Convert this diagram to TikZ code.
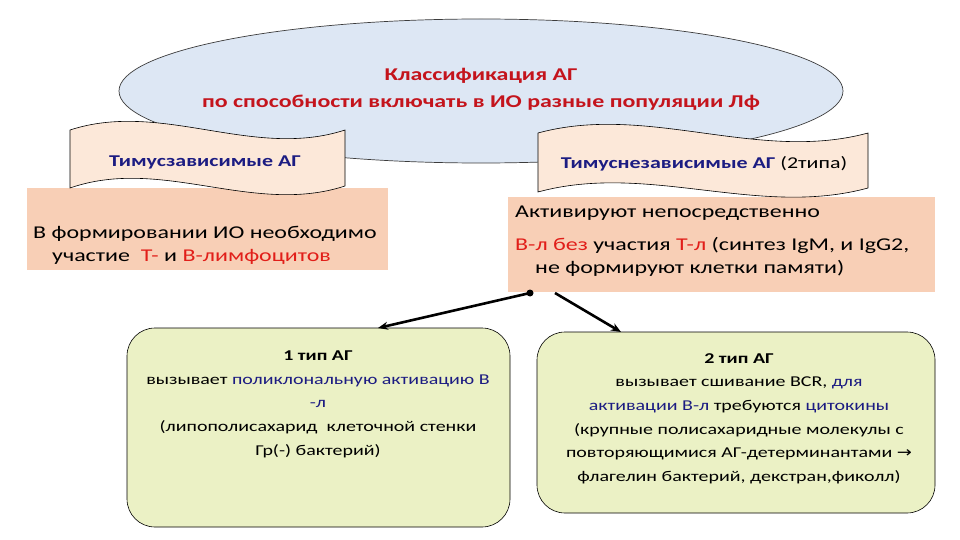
\documentclass[tikz,border=0pt]{standalone}
\usepackage{fontspec}
\setmainfont{Carlito}[FakeStretch=1.33]
\newfontfamily\symf{DejaVu Sans}[FakeStretch=1.2]
\usetikzlibrary{arrows.meta,shapes.geometric}
\definecolor{ellfill}{RGB}{221,231,244}
\definecolor{ellline}{RGB}{60,60,60}
\definecolor{banfill}{RGB}{252,232,217}
\definecolor{boxfill}{RGB}{248,207,182}
\definecolor{grnfill}{RGB}{235,241,197}
\definecolor{hdred}{RGB}{196,20,28}
\definecolor{navy}{RGB}{28,28,130}
\definecolor{txred}{RGB}{225,30,25}
\begin{document}
\begin{tikzpicture}[x=1pt,y=-1pt,
  banner/.style={draw=black,line width=0.6pt,fill=banfill},
  peachbox/.style={draw=none,fill=boxfill,rectangle,inner sep=0pt},
  greenbox/.style={draw=black,line width=0.6pt,fill=grnfill,rectangle,rounded corners=28pt,inner sep=0pt},
  headtxt/.style={font=\fontsize{18}{22}\selectfont\bfseries,text=hdred,inner sep=0pt},
  bantxt/.style={font=\fontsize{16.5}{20}\selectfont\bfseries,text=navy,inner sep=0pt},
  bigtxt/.style={font=\fontsize{18}{22}\selectfont,inner sep=0pt,anchor=base west},
  smalltxt/.style={font=\fontsize{15}{18}\selectfont,inner sep=0pt,anchor=base},
  conn/.style={line width=2.6pt,-{Stealth[length=10pt,width=8pt]}}
]
\useasboundingbox (0,0) rectangle (960,540);
\fill[white] (0,0) rectangle (960,540);

% heading ellipse
\node[ellipse,draw=ellline,line width=0.7pt,fill=ellfill,minimum width=724pt,minimum height=144pt,inner sep=0pt] (head) at (481,91) {};
\node[headtxt,anchor=base] (ht1) at (481,81) {Классификация АГ};
\node[headtxt,anchor=base] (ht2) at (481,108) {по способности включать в ИО разные популяции Лф};

% peach boxes
\node[peachbox,minimum width=361pt,minimum height=82pt] (lbox) at (207.5,229) {};
\node[peachbox,minimum width=427pt,minimum height=95pt] (rbox) at (721.5,244.5) {};

% banners
\draw[banner] (70,130) .. controls (162,100) and (253,160) .. (345,130)
  -- (345,186) .. controls (253,216) and (162,156) .. (70,188) -- cycle;
\node[bantxt] (lban) at (205,162) {Тимусзависимые АГ};
\draw[banner] (538,133) .. controls (648,103) and (758,163) .. (868,133)
  -- (868,188) .. controls (758,218) and (648,162) .. (538,192) -- cycle;
\node[bantxt] (rban) at (704,164) {Тимуснезависимые АГ \mdseries\color{black}(2типа)};

% left box text
\node[bigtxt] (l1) at (33,238) {В формировании ИО необходимо};
\node[bigtxt] (l2) at (52,261) {участие\ \ \textcolor{txred}{Т-} и \textcolor{txred}{В-лимфоцитов}};

% right box text
\node[bigtxt] (r1) at (515,217) {Активируют непосредственно};
\node[bigtxt] (r2) at (515,250) {\textcolor{txred}{В-л без} участия \textcolor{txred}{Т-л} (синтез IgM, и IgG2,};
\node[bigtxt] (r3) at (535,273) {не формируют клетки памяти)};

% green boxes
\node[greenbox,minimum width=383pt,minimum height=199pt] (gbox1) at (318.5,427.5) {};
\node[greenbox,minimum width=398pt,minimum height=181pt] (gbox2) at (736,422.5) {};

\node[smalltxt,font=\fontsize{15}{18}\selectfont\bfseries] (a1) at (318,360) {1 тип АГ};
\node[smalltxt] (a2) at (318,384) {вызывает \textcolor{navy}{поликлональную активацию В}};
\node[smalltxt,text=navy] (a3) at (318,407) {-л};
\node[smalltxt] (a4) at (318,431) {(липополисахарид\ \ клеточной стенки};
\node[smalltxt] (a5) at (318,455) {Гр(-) бактерий)};

\node[smalltxt,font=\fontsize{15}{18}\selectfont\bfseries] (b1) at (739,363) {2 тип АГ};
\node[smalltxt] (b2) at (739,386) {вызывает сшивание BCR, \textcolor{navy}{для}};
\node[smalltxt] (b3) at (739,410) {\textcolor{navy}{активации В-л} требуются \textcolor{navy}{цитокины}};
\node[smalltxt] (b4) at (739,434) {(крупные полисахаридные молекулы с};
\node[smalltxt] (b5) at (739,457) {повторяющимися АГ-детерминантами {\symf →}};
\node[smalltxt] (b6) at (739,481) {флагелин бактерий, декстран,фиколл)};

% connectors
\coordinate (dot) at (530,293);
\coordinate (start2) at (555,293);
\coordinate (tip1) at (378,328);
\coordinate (tip2) at (621,332);
\fill (dot) circle (3.5pt);
\draw[conn] (dot) -- (tip1);
\draw[conn] (start2) -- (tip2);
\end{tikzpicture}
\end{document}
